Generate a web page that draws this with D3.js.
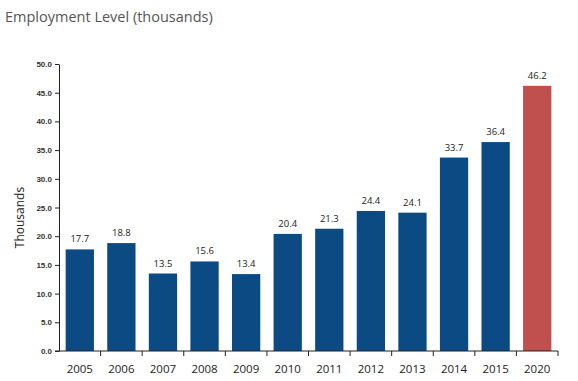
<!DOCTYPE html>
<html><head><meta charset="utf-8">
<script src="https://cdn.jsdelivr.net/npm/d3@7"></script>
<style>
body{margin:0;background:#fff;}
svg{display:block;}
</style></head>
<body>
<svg id="chart" width="578" height="381"></svg>
<script>
const years = ["2005","2006","2007","2008","2009","2010","2011","2012","2013","2014","2015","2020"];
const values = [17.7,18.8,13.5,15.6,13.4,20.4,21.3,24.4,24.1,33.7,36.4,46.2];
const projected = ["2020"];
const yTicks = [0,5,10,15,20,25,30,35,40,45,50];

const svg = d3.select("#chart");
const mL = 59, mR = 558, mT = 64, mB = 351;

const x = d3.scaleBand().domain(years).range([mL, mR]).paddingInner(0.32).paddingOuter(0.16);
const y = d3.scaleLinear().domain([0,50]).range([mB, mT]);

svg.append("text").attr("x",5).attr("y",22)
  .attr("font-family","'Open Sans', sans-serif").attr("font-size",14.5)
  .attr("fill","#555").text("Employment Level (thousands)");

svg.append("text")
  .attr("transform",`translate(24,${(mT+mB)/2+ 10}) rotate(-90)`)
  .attr("text-anchor","middle")
  .attr("font-family","'Open Sans', sans-serif").attr("font-size",12)
  .attr("fill","#222").text("Thousands");

svg.selectAll("rect.bar").data(years).enter().append("rect")
  .attr("x",d=>x(d)).attr("width",x.bandwidth())
  .attr("y",(d,i)=>y(values[i])).attr("height",(d,i)=>y(0)-y(values[i]))
  .attr("fill",d=>projected.includes(d)?"#c0504d":"#0b4a83");

svg.selectAll("text.val").data(years).enter().append("text")
  .attr("x",d=>x(d)+x.bandwidth()/2).attr("y",(d,i)=>y(values[i])-7)
  .attr("text-anchor","middle")
  .attr("font-family","'Open Sans', sans-serif").attr("font-size",9.5)
  .attr("fill","#222").text((d,i)=>values[i].toFixed(1));

const yAxis = svg.append("g").attr("transform",`translate(${mL},0)`)
  .call(d3.axisLeft(y).tickValues(yTicks).tickFormat(d=>d.toFixed(1)).tickSize(4).tickSizeOuter(0).tickPadding(3));
yAxis.select(".domain").attr("stroke","#222");
yAxis.selectAll(".tick line").attr("stroke","#222");
yAxis.selectAll("text").attr("font-family","'Liberation Sans Narrow','Liberation Sans',Arial,sans-serif")
  .attr("font-weight","bold").attr("font-size",8).attr("fill","#333");

const xg = svg.append("g");
xg.append("line").attr("x1",mL-4).attr("x2",mR).attr("y1",mB).attr("y2",mB).attr("stroke","#222");
const bounds = d3.range(1, years.length+1).map(i=>mL + i*(mR-mL)/years.length);
xg.selectAll("line.t").data(bounds).enter().append("line")
  .attr("x1",d=>d).attr("x2",d=>d).attr("y1",mB).attr("y2",mB+5).attr("stroke","#222");
xg.selectAll("text").data(years).enter().append("text")
  .attr("x",d=>x(d)+x.bandwidth()/2).attr("y",mB+22)
  .attr("text-anchor","middle")
  .attr("font-family","'Open Sans', sans-serif").attr("font-size",11.5)
  .attr("fill","#222").text(d=>d);
</script>
</body></html>
